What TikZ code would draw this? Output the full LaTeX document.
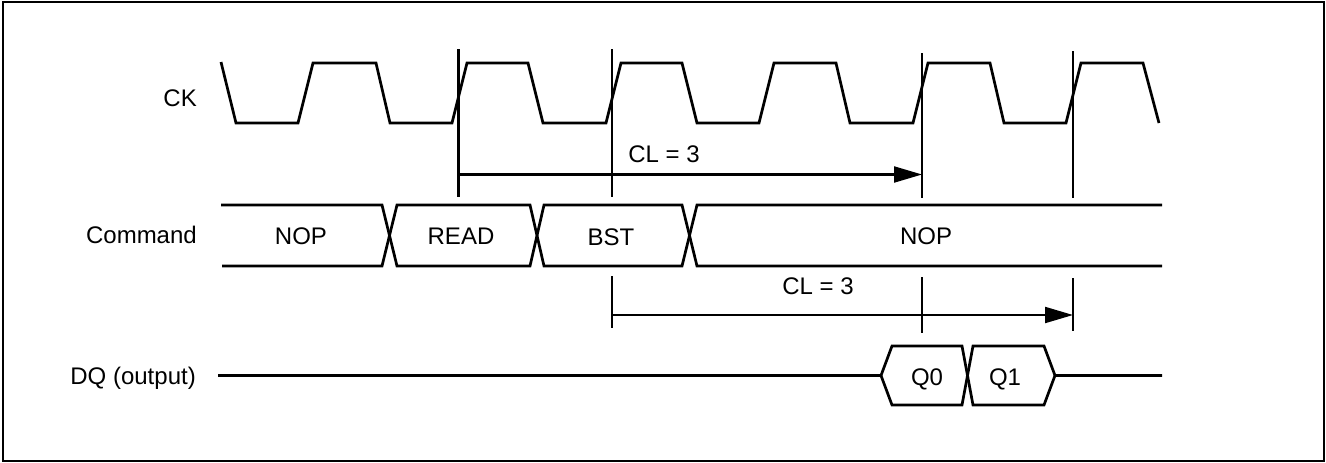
\documentclass[tikz,border=0pt]{standalone}
\usepackage{fontspec}
\setmainfont{Liberation Sans}
\usetikzlibrary{arrows.meta}
\begin{document}
\begin{tikzpicture}[x=1pt,y=-1pt,
  wave/.style={line width=2.7pt,line join=miter},
  marker/.style={line width=2.8pt},
  dim/.style={line width=2.1pt,-{Triangle[length=28pt,width=16pt]}},
  lbl/.style={inner sep=0pt,font=\fontsize{24}{28}\selectfont},
  frame/.style={line width=2.2pt}]
\useasboundingbox (0,0) rectangle (1326,463);
\draw[frame] (3,2) rectangle (1324,461);

% signal names (baseline = centre + half cap height)
\node[lbl,anchor=base east] (ck)  at (197,106.5) {CK};
\node[lbl,anchor=base east] (cmd) at (197,243) {Command};
\node[lbl,anchor=base east] (dq)  at (196,384) {DQ (output)};

% clock
\draw[wave] (221,62) -- (236,123) -- (298,123) -- (313,63) -- (376,63) -- (390,123)
  -- (452,123) -- (467,63) -- (528,63) -- (543,123) -- (606,123) -- (621,63)
  -- (682,63) -- (697,123) -- (759,123) -- (774,63) -- (836,63) -- (850,123)
  -- (913,123) -- (928,63) -- (990,63) -- (1004,123) -- (1066,123) -- (1081,63)
  -- (1143,63) -- (1159,123);

% timing markers
\coordinate (a1) at (458.5,49);  \coordinate (a1b) at (458.5,197);
\coordinate (a2) at (612,49);    \coordinate (a2b) at (612,197);
\coordinate (a3) at (922,53);    \coordinate (a3b) at (922,198);
\coordinate (a4) at (1073,51);   \coordinate (a4b) at (1073,198);
\draw[marker] (a1) -- (a1b);
\draw[marker] (a2) -- (a2b);
\draw[marker] (a3) -- (a3b);
\draw[marker] (a4) -- (a4b);

\coordinate (b2) at (612,276);   \coordinate (b2b) at (612,328);
\coordinate (b3) at (922,277);   \coordinate (b3b) at (922,333);
\coordinate (b4) at (1073,278);  \coordinate (b4b) at (1073,331);
\draw[marker] (b2) -- (b2b);
\draw[marker] (b3) -- (b3b);
\draw[marker] (b4) -- (b4b);

% CL = 3 dimension arrows
\coordinate (u1) at (458.5,174.5); \coordinate (u2) at (922,174.5);
\draw[dim] (u1) -- (u2);
\node[lbl,anchor=base] (cl1) at (664,162) {CL = 3};

\coordinate (l1) at (612,315); \coordinate (l2) at (1073,315);
\draw[dim] (l1) -- (l2);
\node[lbl,anchor=base] (cl2) at (818,294.5) {CL = 3};

% command bus
\draw[wave] (221,205) -- (382,205) -- (397,266) -- (530,266) -- (544,205)
  -- (682,205) -- (697,266) -- (1162,266);
\draw[wave] (222,266) -- (382,266) -- (397,205) -- (530,205) -- (544,266)
  -- (682,266) -- (697,205) -- (1162,205);
\node[lbl,anchor=base] (nop1) at (301,244) {NOP};
\node[lbl,anchor=base] (rd)   at (461,244) {READ};
\node[lbl,anchor=base] (bst)  at (611,245) {BST};
\node[lbl,anchor=base] (nop2) at (926,244) {NOP};

% DQ
\draw[wave] (218,375.5) -- (881,375.5) -- (892,346) -- (962,346) -- (973,405)
  -- (1044,405) -- (1055,375.5) -- (1162,375.5);
\draw[wave] (881,375.5) -- (892,405) -- (962,405) -- (973,346) -- (1044,346)
  -- (1055,375.5);
\node[lbl,anchor=base] (q0) at (927,385) {Q0};
\node[lbl,anchor=base] (q1) at (1005,385) {Q1};
\end{tikzpicture}
\end{document}
